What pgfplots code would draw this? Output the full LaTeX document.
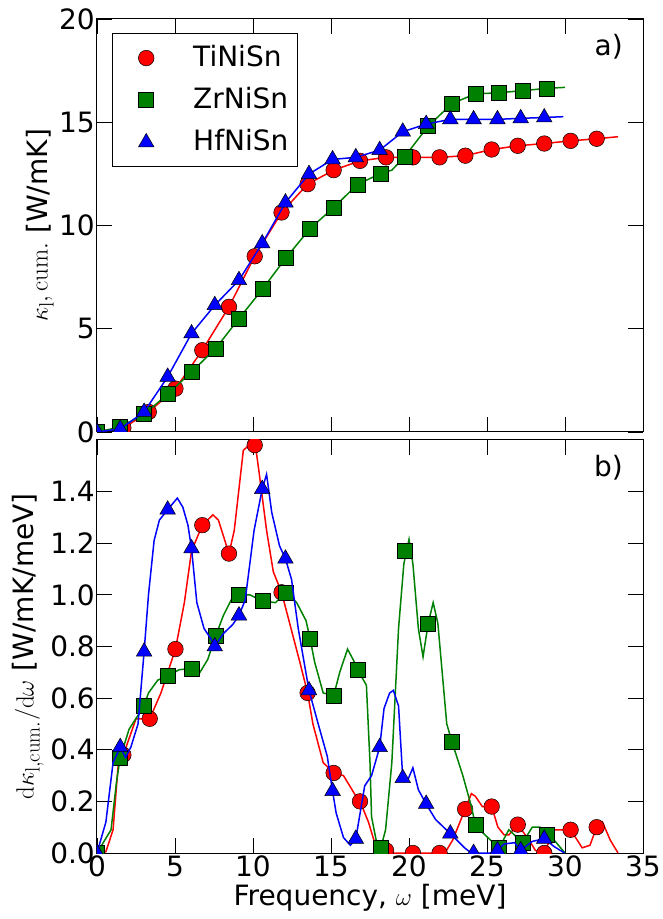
\documentclass[border=0pt]{standalone}
\usepackage[no-math]{fontspec}
\setmainfont{DejaVu Sans}
\usepackage{pgfplots}
\pgfplotsset{compat=1.18}
\definecolor{mplgreen}{RGB}{0,128,0}
\newcommand{\bigfont}{\fontsize{28}{33}\selectfont}
\begin{document}
\bigfont
\begin{tikzpicture}
\path[use as bounding box] (-97pt,-66pt) rectangle (565pt,853pt);
\pgfplotsset{
  myax/.style={
    scale only axis, width=546pt, height=413pt,
    xmin=0, xmax=35, xtick={0,5,...,35},
    tick align=inside, major tick length=15pt,
    every tick/.style={black, line width=0.8pt},
    axis line style={black, line width=1pt},
    tick label style={font=\bigfont},
    label style={font=\bigfont},
    /pgf/number format/assume math mode=true,
    yticklabel style={inner xsep=2pt},
    xticklabel style={inner ysep=3pt},
    clip marker paths=true,
  },
  redline/.style={red, line width=1.5pt, no marks, forget plot},
  greenline/.style={mplgreen, line width=1.5pt, no marks, forget plot},
  blueline/.style={blue, line width=1.5pt, no marks, forget plot},
  redmark/.style={only marks, mark=*, mark size=7.8pt, mark options={fill=red, draw=black, line width=0.5pt}},
  greenmark/.style={only marks, mark=square*, mark size=7.5pt, mark options={fill=mplgreen, draw=black, line width=0.5pt}},
  bluemark/.style={only marks, mark=triangle*, mark size=9pt, mark options={fill=blue, draw=black, line width=0.5pt}},
}
% ---------------- top panel ----------------
\begin{axis}[myax, at={(0pt,421pt)}, anchor=south west,
  ymin=0, ymax=20, ytick={0,5,10,15,20}, xticklabels={},
  every axis y label/.style={at={(axis description cs:-0.1044,0.5)}, rotate=90, anchor=center},
  ylabel={$\kappa_{\mathrm{l}},\mathrm{cum.}$ [W/mK]},
  legend style={at={(axis description cs:0.027,0.966)}, anchor=north west,
    draw=black, line width=1pt, fill=white, font=\bigfont,
    inner xsep=5pt, inner ysep=7.8pt, row sep=8.7pt, column sep=14pt,
    nodes={inner sep=4pt}},
  legend cell align=left,
  legend image code/.code={\path[draw=none, fill=none] (0pt,-4pt) rectangle (58pt,4pt); \draw[mark repeat=2, mark phase=2, #1] plot coordinates {(0pt,0pt) (29pt,0pt) (58pt,0pt)};},
]
\addplot[redline] coordinates {
(0,0) (1.69,0.2) (3.32,0.97) (5.03,2.10) (6.75,3.96) (8.46,6.06) (10.11,8.51) (11.83,10.63) (13.5,12.0) (15.17,12.68) (16.86,13.13) (18.53,13.30) (20.25,13.30) (21.96,13.30) (23.61,13.38) (25.3,13.68) (26.97,13.86) (28.67,13.97) (30.36,14.10) (32.03,14.20) (33.4,14.3)};
\addplot[redmark] coordinates {
(0,0) (1.69,0.2) (3.32,0.97) (5.03,2.10) (6.75,3.96) (8.46,6.06) (10.11,8.51) (11.83,10.63) (13.5,12.0) (15.17,12.68) (16.86,13.13) (18.53,13.30) (20.25,13.30) (21.96,13.30) (23.61,13.38) (25.3,13.68) (26.97,13.86) (28.67,13.97) (30.36,14.10) (32.03,14.20)};
\addlegendentry{TiNiSn}
\addplot[greenline] coordinates {
(0,0) (1.49,0.24) (3.02,0.86) (4.53,1.83) (6.06,2.91) (7.6,4.04) (9.1,5.49) (10.64,6.95) (12.13,8.45) (13.66,9.85) (15.17,10.87) (16.7,11.99) (18.19,12.52) (18.9,12.68) (19.72,13.33) (21.23,14.81) (22.76,15.91) (24.25,16.37) (25.78,16.43) (27.29,16.53) (28.83,16.64) (30.0,16.69)};
\addplot[greenmark] coordinates {
(0,0) (1.49,0.24) (3.02,0.86) (4.53,1.83) (6.06,2.91) (7.6,4.04) (9.1,5.49) (10.64,6.95) (12.13,8.45) (13.66,9.85) (15.17,10.87) (16.7,11.99) (18.19,12.52) (19.72,13.33) (21.23,14.81) (22.76,15.91) (24.25,16.37) (25.78,16.43) (27.29,16.53) (28.83,16.64)};
\addlegendentry{ZrNiSn}
\addplot[blueline] coordinates {
(0,0) (1.49,0.15) (3.02,0.97) (4.53,2.67) (6.06,4.77) (7.55,6.14) (9.1,7.35) (10.59,9.13) (12.08,11.11) (13.59,12.49) (15.1,13.2) (16.59,13.3) (18.12,13.65) (19.6,14.54) (21.1,14.91) (22.65,15.14) (24.14,15.14) (25.67,15.14) (27.16,15.19) (28.67,15.23) (29.9,15.27)};
\addplot[bluemark] coordinates {
(0,0) (1.49,0.15) (3.02,0.97) (4.53,2.67) (6.06,4.77) (7.55,6.14) (9.1,7.35) (10.59,9.13) (12.08,11.11) (13.59,12.49) (15.1,13.2) (16.59,13.3) (18.12,13.65) (19.6,14.54) (21.1,14.91) (22.65,15.14) (24.14,15.14) (25.67,15.14) (27.16,15.19) (28.67,15.23)};
\addlegendentry{HfNiSn}
\node[anchor=north east, inner sep=0pt, font=\bigfont] at (rel axis cs:1,1) [xshift=-20pt, yshift=-15pt] {a)};
\end{axis}
% ---------------- bottom panel ----------------
\begin{axis}[myax, at={(0pt,0pt)}, anchor=south west,
  ymin=0, ymax=1.6, ytick={0,0.2,...,1.41},
  yticklabel style={/pgf/number format/fixed, /pgf/number format/fixed zerofill, /pgf/number format/precision=1},
  every axis y label/.style={at={(axis description cs:-0.1264,0.5)}, rotate=90, anchor=center},
  every axis x label/.style={at={(axis description cs:0.5,-0.109)}, anchor=center},
  ylabel={$\mathrm{d}\kappa_{\mathrm{l,cum.}}/\mathrm{d}\omega$ [W/mK/meV]},
  xlabel={Frequency, $\omega$ [meV]},
]
\addplot[redline] coordinates {
(0,0) (0.57,0.005) (1.03,0.09) (1.37,0.35) (1.69,0.38) (2.5,0.52) (3.38,0.52) (4.1,0.62) (5.03,0.79) (5.6,0.97) (6.06,1.17) (6.75,1.27) (7.43,1.31) (7.78,1.29) (8.46,1.16) (8.8,1.25) (9.38,1.56) (10.11,1.60) (10.4,1.47) (10.87,1.25) (11.3,1.09) (11.83,1.01) (12.35,0.89) (13.0,0.74) (13.5,0.62) (13.84,0.50) (14.5,0.35) (15.17,0.31) (15.8,0.30) (16.5,0.23) (16.86,0.20) (17.4,0.12) (17.8,0.04) (18.53,0.0) (20.25,0) (21.96,0) (22.3,0.0) (22.8,0.05) (23.6,0.17) (24.0,0.23) (24.25,0.22) (24.7,0.18) (25.3,0.18) (25.7,0.10) (26.1,0.07) (26.4,0.07) (26.97,0.11) (27.7,0.05) (28.1,0.01) (28.67,0.0) (29.3,0.09) (30.36,0.09) (31.1,0.02) (31.6,0.03) (32.03,0.10) (32.4,0.12) (32.9,0.05) (33.4,0)};
\addplot[redmark] coordinates {
(0,0) (1.69,0.38) (3.38,0.52) (5.03,0.79) (6.75,1.27) (8.46,1.16) (10.11,1.58) (11.83,1.01) (13.5,0.62) (15.17,0.31) (16.86,0.20) (18.53,0.01) (20.25,0.0) (21.96,0.0) (23.6,0.17) (25.3,0.18) (26.97,0.11) (28.67,0.0) (30.36,0.09) (32.03,0.10)};
\addplot[greenline] coordinates {
(0,0) (0.9,0.09) (1.26,0.28) (1.49,0.37) (2.06,0.48) (3.02,0.57) (3.3,0.62) (3.9,0.67) (4.53,0.685) (5.26,0.71) (6.06,0.715) (6.6,0.70) (7.1,0.75) (7.6,0.84) (8.1,0.92) (8.6,0.98) (9.1,1.00) (9.8,1.0) (10.64,0.976) (11.44,0.97) (12.13,1.01) (12.8,0.97) (13.4,0.9) (13.66,0.83) (13.95,0.74) (14.5,0.62) (15.17,0.61) (15.56,0.70) (16.06,0.79) (16.5,0.74) (16.7,0.71) (17.27,0.65) (17.5,0.35) (17.6,0.14) (17.96,0.03) (18.19,0.02) (18.5,0.09) (18.9,0.35) (19.33,0.87) (19.67,1.12) (20.0,1.215) (20.25,1.12) (20.6,0.87) (20.9,0.76) (21.23,0.89) (21.55,0.97) (21.85,0.89) (22.42,0.50) (22.76,0.43) (23.45,0.30) (24.0,0.18) (24.25,0.11) (24.7,0.08) (25.4,0.04) (25.78,0.02) (26.4,0.09) (27.29,0.04) (27.9,0.10) (28.4,0.10) (28.83,0.07) (29.3,0.05) (30.0,0)};
\addplot[greenmark] coordinates {
(0,0) (1.49,0.37) (3.02,0.57) (4.53,0.685) (6.06,0.715) (7.6,0.84) (9.1,1.00) (10.64,0.976) (12.13,1.01) (13.66,0.83) (15.17,0.61) (16.7,0.71) (18.19,0.02) (19.72,1.17) (21.23,0.89) (22.76,0.43) (24.25,0.11) (25.78,0.02) (27.29,0.04) (28.83,0.07)};
\addplot[blueline] coordinates {
(0,0) (0.57,0.12) (1.03,0.35) (1.49,0.41) (1.83,0.37) (2.17,0.41) (2.63,0.50) (3.02,0.78) (3.3,1.0) (3.66,1.21) (4.0,1.29) (4.53,1.33) (5.15,1.375) (5.5,1.34) (5.83,1.27) (6.06,1.18) (6.4,0.97) (6.86,0.87) (7.3,0.83) (7.55,0.80) (8.1,0.85) (8.7,0.885) (9.1,0.92) (9.5,0.98) (10.07,1.25) (10.59,1.41) (10.87,1.467) (11.2,1.32) (11.7,1.19) (12.08,1.14) (12.47,1.06) (12.9,0.87) (13.59,0.63) (14.18,0.50) (14.76,0.375) (15.1,0.24) (15.33,0.155) (15.8,0.06) (16.24,0.03) (16.59,0.055) (17.16,0.26) (17.6,0.30) (18.12,0.41) (18.4,0.56) (18.76,0.62) (19.0,0.63) (19.33,0.57) (19.6,0.29) (19.9,0.28) (20.25,0.33) (20.6,0.245) (21.1,0.19) (21.7,0.13) (22.65,0.075) (23.56,0.02) (24.0,0) (25.2,0) (25.67,0.01) (26.1,0.035) (26.77,0.04) (27.16,0.01) (27.9,0.045) (28.67,0.055) (29.3,0.025) (29.97,0)};
\addplot[bluemark] coordinates {
(0,0) (1.49,0.41) (3.02,0.78) (4.53,1.33) (6.06,1.18) (7.55,0.80) (9.1,0.92) (10.59,1.41) (12.08,1.14) (13.59,0.63) (15.1,0.24) (16.59,0.055) (18.12,0.41) (19.6,0.29) (21.1,0.19) (22.65,0.075) (24.14,0.0) (25.67,0.01) (27.16,0.01) (28.67,0.055)};
\node[anchor=north east, inner sep=0pt, font=\bigfont] at (rel axis cs:1,1) [xshift=-20pt, yshift=-15pt] {b)};
\end{axis}
\end{tikzpicture}
\end{document}
